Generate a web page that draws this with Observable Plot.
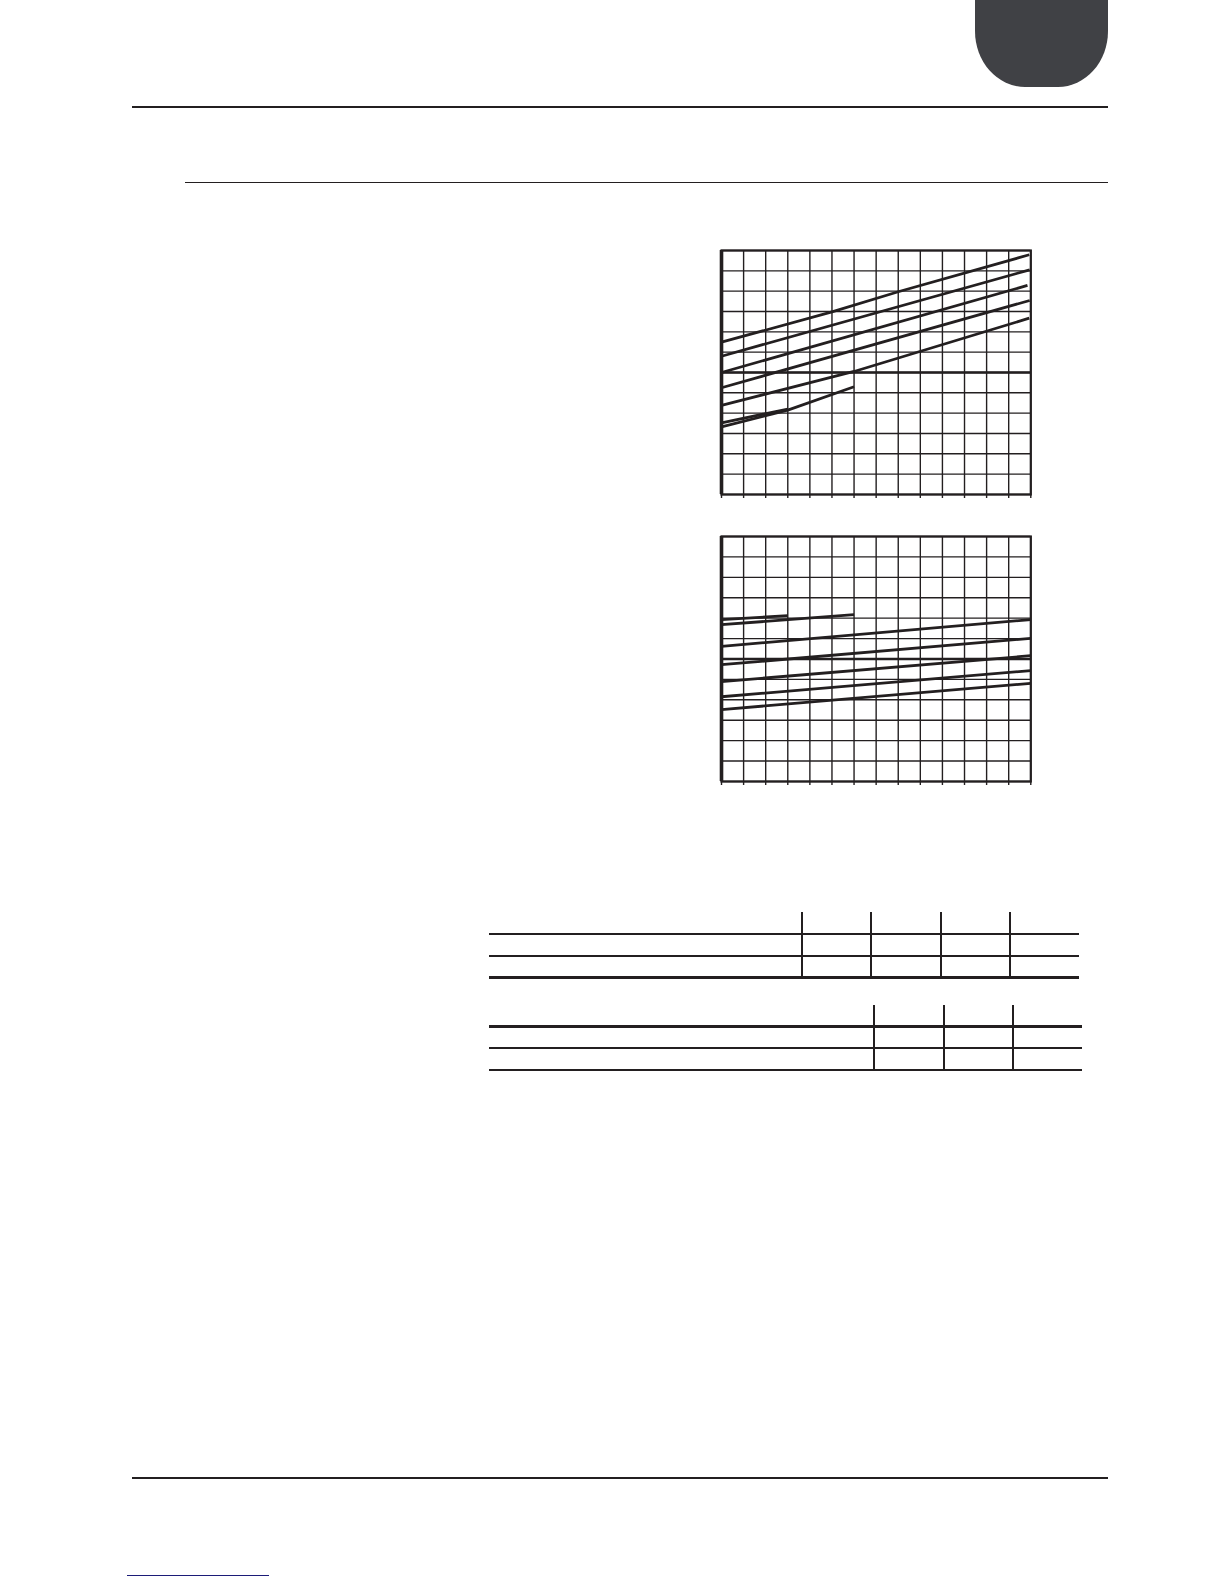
<!DOCTYPE html>
<html>
<head>
<meta charset="utf-8">
<script src="https://cdn.jsdelivr.net/npm/d3@7"></script>
<script src="https://cdn.jsdelivr.net/npm/@observablehq/plot@0.6"></script>
<style>
  html, body { margin: 0; padding: 0; background: #fff; }
  body { width: 1224px; height: 1584px; position: relative; overflow: hidden; font-family: "Liberation Sans", Arial, sans-serif; }
  .abs { position: absolute; }
  .rule { position: absolute; background: #231f20; }
  .tab { position: absolute; background: #404145; border-bottom-left-radius: 50px 56px; border-bottom-right-radius: 50px 56px; }
  .chart { position: absolute; }
  .chart svg { display: block; overflow: visible; }
</style>
</head>
<body>
<div class="tab" style="left:975px; top:0; width:133px; height:87px;"></div>
<div class="rule" style="left:132px; top:106px; width:976px; height:2px;"></div>
<div class="rule" style="left:185px; top:182px; width:923px; height:1px;"></div>

<div id="chartTop" class="chart"></div>
<div id="chartBottom" class="chart"></div>

<!-- table 1 -->
<div class="rule" style="left:801px; top:912px; width:1.5px; height:64px;"></div>
<div class="rule" style="left:870px; top:912px; width:1.5px; height:64px;"></div>
<div class="rule" style="left:940px; top:912px; width:1.5px; height:64px;"></div>
<div class="rule" style="left:1009px; top:912px; width:1.5px; height:64px;"></div>
<div class="rule" style="left:489px; top:933px; width:590px; height:1.5px;"></div>
<div class="rule" style="left:489px; top:955px; width:590px; height:1.5px;"></div>
<div class="rule" style="left:489px; top:976px; width:590px; height:3px;"></div>
<!-- table 2 -->
<div class="rule" style="left:873px; top:1005px; width:1.5px; height:64px;"></div>
<div class="rule" style="left:943px; top:1005px; width:1.5px; height:64px;"></div>
<div class="rule" style="left:1012px; top:1005px; width:1.5px; height:64px;"></div>
<div class="rule" style="left:489px; top:1025px; width:593px; height:3px;"></div>
<div class="rule" style="left:489px; top:1047px; width:593px; height:1.5px;"></div>
<div class="rule" style="left:489px; top:1069px; width:593px; height:1.5px;"></div>

<div class="rule" style="left:132px; top:1477px; width:976px; height:2px;"></div>
<div class="abs" style="left:127px; top:1575px; width:142px; height:1px; background:#1c1c78;"></div>

<script>
// grid positions (chart units)
const xGrid = [0,1,2,3,4,5,6,7,8,9,10,11,12,13,14];
const yGrid = [0,1,2,3,4,5,6,7,8,9,10,11,12];
const yMajor = [6];

// top chart curves
const top1X = [0, 5, 8, 13.93],  top1Y = [7.49, 8.98, 9.97, 11.79];
const top2X = [0, 13.95],        top2Y = [6.8, 11.05];
const top3X = [0, 13.85],        top3Y = [6.0, 10.28];
const top4X = [0, 13.95],        top4Y = [5.25, 9.54];
const top5X = [0, 6, 13.93],     top5Y = [4.38, 6.05, 8.67];
const top6X = [0, 3, 6],         top6Y = [3.33, 4.15, 5.3];
const top7X = [0, 3],            top7Y = [3.52, 4.2];

// bottom chart curves
const bot1X = [0, 3],   bot1Y = [7.93, 8.12];
const bot2X = [0, 6],   bot2Y = [7.68, 8.17];
const bot3X = [0, 14],  bot3Y = [6.62, 7.93];
const bot4X = [0, 14],  bot4Y = [5.72, 7.01];
const bot5X = [0, 14],  bot5Y = [4.89, 6.16];
const bot6X = [0, 14],  bot6Y = [4.15, 5.43];
const bot7X = [0, 14],  bot7Y = [3.52, 4.81];

const topSeries = [[top1X, top1Y],[top2X, top2Y],[top3X, top3Y],[top4X, top4Y],[top5X, top5Y],[top6X, top6Y],[top7X, top7Y]];
const botSeries = [[bot1X, bot1Y],[bot2X, bot2Y],[bot3X, bot3Y],[bot4X, bot4Y],[bot5X, bot5Y],[bot6X, bot6Y],[bot7X, bot7Y]];

const INK = "#231f20";

function makeChart(series, el, left, top, W, H) {
  const ml = 3, mr = 2, mt = 2, mb = 6;
  const data = series.flatMap(([xs, ys], i) => xs.map((x, j) => ({id: i, x, y: ys[j]})));
  const svg = Plot.plot({
    width: W + ml + mr,
    height: H + mt + mb,
    marginLeft: ml, marginRight: mr, marginTop: mt, marginBottom: mb,
    style: {background: "transparent", overflow: "visible"},
    x: {domain: [0, 14], label: null},
    y: {domain: [0, 12], label: null},
    marks: [
      Plot.ruleX(xGrid, {stroke: INK, strokeWidth: 1.4}),
      Plot.ruleY(yGrid, {stroke: INK, strokeWidth: 1.4}),
      Plot.ruleY(yMajor, {stroke: INK, strokeWidth: 2.4}),
      Plot.frame({stroke: INK, strokeWidth: 2.2}),
      Plot.ruleX([0], {stroke: INK, strokeWidth: 3.6}),
      Plot.axisX({ticks: xGrid, tickSize: 4, tickFormat: () => "", label: null, stroke: INK, strokeWidth: 1.4}),
      Plot.axisY({ticks: [], tickSize: 0, tickFormat: () => "", label: null}),
      Plot.line(data, {x: "x", y: "y", z: "id", stroke: INK, strokeWidth: 2.8, strokeLinecap: "butt", strokeLinejoin: "round"})
    ]
  });
  el.style.left = (left - ml) + "px";
  el.style.top = (top - mt) + "px";
  el.appendChild(svg);
}

makeChart(topSeries, document.getElementById("chartTop"), 720.7, 250, 309.3, 244);
makeChart(botSeries, document.getElementById("chartBottom"), 720.7, 536, 309.3, 245);
</script>
</body>
</html>
